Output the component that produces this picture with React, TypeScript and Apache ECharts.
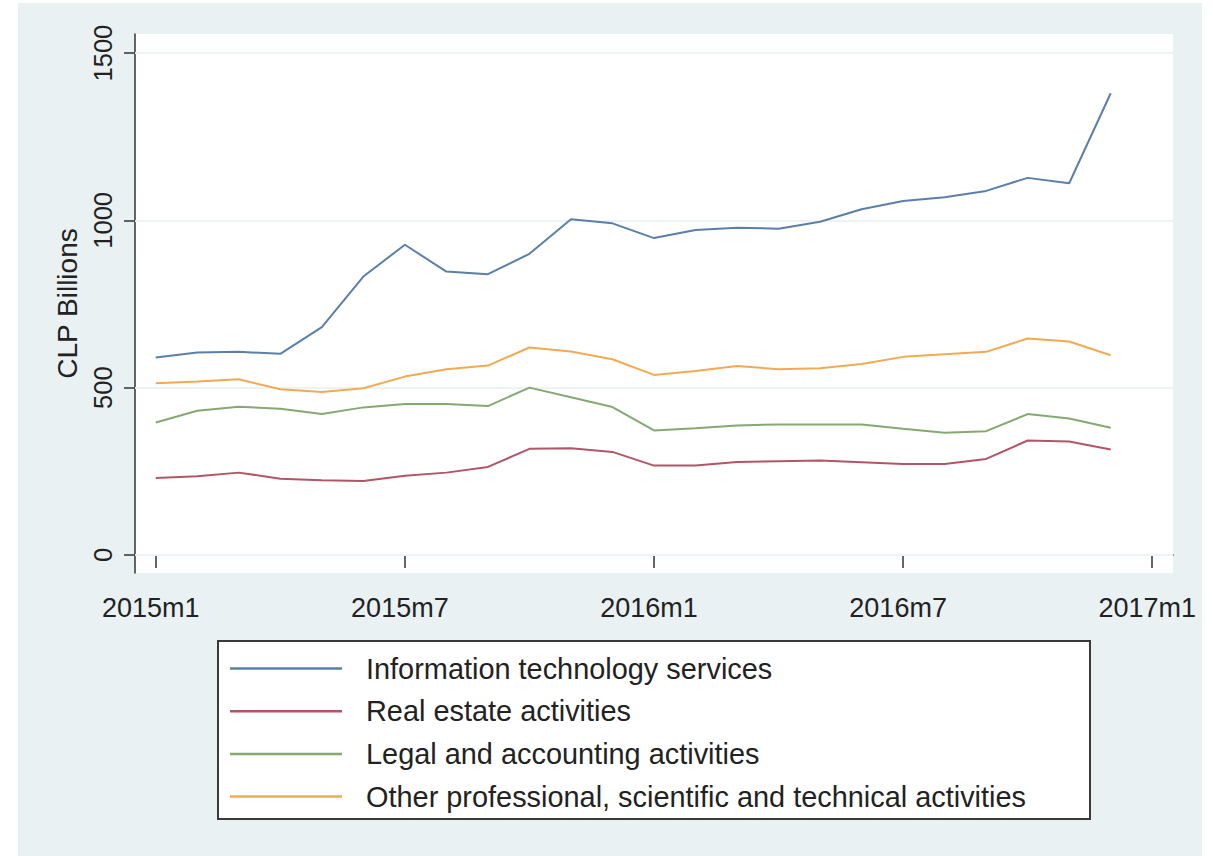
import React, { useEffect, useRef } from "react";
import * as echarts from "echarts";

const categories = [
  "2015m1", "2015m2", "2015m3", "2015m4", "2015m5", "2015m6",
  "2015m7", "2015m8", "2015m9", "2015m10", "2015m11", "2015m12",
  "2016m1", "2016m2", "2016m3", "2016m4", "2016m5", "2016m6",
  "2016m7", "2016m8", "2016m9", "2016m10", "2016m11", "2016m12",
  "2017m1",
];

const itServices = [590, 605, 607, 601, 681, 832, 927, 847, 839, 900, 1003, 991, 947, 971, 978, 975, 996, 1033, 1058, 1069, 1088, 1127, 1111, 1380];
const realEstate = [230, 235, 246, 228, 223, 221, 237, 246, 263, 317, 319, 308, 267, 267, 278, 280, 282, 277, 272, 272, 287, 342, 339, 315];
const legalAccounting = [396, 431, 443, 437, 421, 441, 451, 451, 445, 500, 471, 442, 372, 379, 387, 390, 390, 390, 377, 365, 370, 421, 408, 380];
const otherProfessional = [513, 518, 525, 495, 487, 498, 533, 555, 566, 620, 608, 585, 538, 550, 565, 555, 558, 571, 592, 600, 607, 647, 638, 597];

const seriesNames = [
  "Information technology services",
  "Real estate activities",
  "Legal and accounting activities",
  "Other professional, scientific and technical activities",
];
const seriesColors = ["#5B7FA8", "#B25566", "#86A872", "#F2AA52"];
const yTicks = [0, 500, 1000, 1500];

const FONT = "'Liberation Sans', Arial, sans-serif";
const TEXT = "#222";
const AXIS = "#333";

export default function App() {
  const ref = useRef<HTMLDivElement>(null);
  useEffect(() => {
    if (!ref.current) return;
    const chart = echarts.init(ref.current, undefined, { renderer: "svg" });
    const values = [itServices, realEstate, legalAccounting, otherProfessional];
    chart.setOption({
      animation: false,
      backgroundColor: "#ffffff",
      textStyle: { fontFamily: FONT },
      graphic: {
        elements: [
          { type: "rect", z: -2, shape: { x: 18, y: 3, width: 1184, height: 853 }, style: { fill: "#E9F1F3" } },
          { type: "rect", z: -1, shape: { x: 135, y: 34, width: 1038, height: 539 }, style: { fill: "#ffffff" } },
          { type: "rect", z: -1, shape: { x: 218, y: 641, width: 872, height: 178 }, style: { fill: "#ffffff", stroke: "#3a3a3a", lineWidth: 2 } },
        ],
      },
      grid: { left: 135, right: 40, top: 34, bottom: 283, containLabel: false, show: false },
      legend: {
        data: seriesNames,
        orient: "vertical",
        left: 230,
        top: 654,
        padding: 0,
        icon: "rect",
        itemWidth: 112,
        itemHeight: 2.5,
        itemGap: 13.7,
        formatter: "{a|{name}}",
        textStyle: {
          color: TEXT,
          fontFamily: FONT,
          fontSize: 28.9,
          rich: { a: { fontSize: 28.9, padding: [0, 0, 0, 19], color: TEXT, fontFamily: FONT } },
        },
      },
      xAxis: {
        type: "category",
        data: categories,
        boundaryGap: true,
        axisLine: { show: true, lineStyle: { color: AXIS, width: 1.5 } },
        axisTick: { show: true, alignWithLabel: true, interval: 5, length: 13, lineStyle: { color: AXIS, width: 1.5 } },
        axisLabel: { interval: 5, margin: 21, fontSize: 27, color: TEXT, fontFamily: FONT, padding: [0, 10, 0, 0] },
        splitLine: { show: false },
      },
      yAxis: {
        type: "value",
        min: -54,
        max: 1557,
        name: "CLP Billions",
        nameLocation: "middle",
        nameRotate: 90,
        nameGap: 54,
        nameTextStyle: { fontSize: 28, color: TEXT, fontFamily: FONT },
        axisLine: { show: true, lineStyle: { color: AXIS, width: 1.5 } },
        axisTick: { show: true, length: 11, customValues: yTicks, lineStyle: { color: AXIS, width: 1.5 } },
        axisLabel: {
          rotate: 90,
          margin: 19,
          fontSize: 25.5,
          color: TEXT,
          fontFamily: FONT,
          customValues: yTicks,
          formatter: (v: number) => String(v),
        },
        splitLine: { show: false },
      },
      series: [
        {
          name: "grid",
          type: "line",
          data: [],
          z: 1,
          silent: true,
          markLine: {
            z: 1,
            silent: true,
            symbol: ["none", "none"],
            label: { show: false },
            lineStyle: { color: "#EDF3F4", width: 2, type: "solid" },
            data: yTicks.map((v) => ({ yAxis: v })),
          },
        },
        ...values.map((d, i) => ({
          name: seriesNames[i],
          type: "line",
          data: d,
          z: 3,
          symbol: "none",
          color: seriesColors[i],
          lineStyle: { color: seriesColors[i], width: 2 },
        })),
      ],
    });
    return () => chart.dispose();
  }, []);
  return (
    <div
      ref={ref}
      style={{ position: "absolute", left: 0, top: 0, width: 1213, height: 856 }}
    />
  );
}
